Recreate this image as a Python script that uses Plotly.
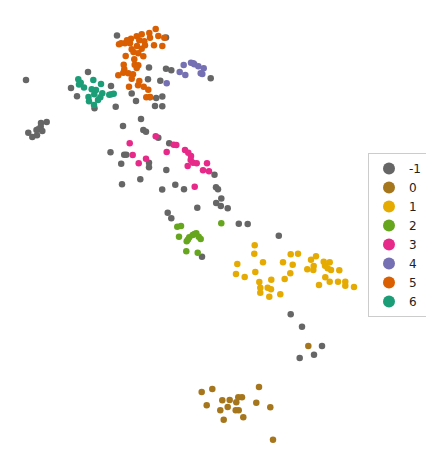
import plotly.graph_objects as go

labels = ["-1", "0", "1", "2", "3", "4", "5", "6"]
colors = ["#666666", "#a6761d", "#e6ab02", "#66a61e", "#e7298a", "#7570b3", "#d95f02", "#1b9e77"]

# cluster -1 (noise)
x_m1 = [26, 117, 88, 166, 149, 166, 171.3, 210.7, 148, 160.3, 111, 71, 77, 131.7, 136, 150, 156.2, 162.3,
        155, 162.3, 115.7, 94.5, 123, 46.7, 41, 40.7, 38.3, 42.3, 28.3, 32.3, 37, 36.5,
        141, 143.3, 146, 158.3, 169.2, 110.5, 124.2, 126.3, 121.2, 149, 149, 166.3, 140.3, 122,
        162.2, 175.3, 184, 214.5, 216, 218, 221.3, 216.2, 220.8, 227.7, 197.3, 167.7, 171.3,
        238.8, 247.7, 278.8, 202, 290.7, 302, 322, 314, 299.7]
y_m1 = [80, 35.5, 72, 37.5, 67.5, 68.7, 70.3, 78.3, 79.3, 80.7, 86, 88, 96.3, 93.5, 101, 97.3, 98, 96.5,
        106, 106.2, 106.8, 108.2, 126, 122, 123, 126.7, 129.3, 131, 132.7, 137, 135.3, 130,
        119, 130, 131.7, 137.7, 143.2, 152.2, 154.8, 154.8, 163.7, 162.8, 167.3, 170, 179.2, 184.2,
        189.5, 184.8, 189.3, 174.7, 187.3, 189.3, 198.5, 203, 206, 208.2, 207.7, 212.7, 218.2,
        223.7, 224, 235.8, 256.7, 314.3, 326.7, 346, 354.7, 358]

# cluster 0
x_0 = [201.7, 212.3, 206.7, 222.3, 229.7, 227.7, 220.3, 223.7, 236.3, 238.3, 242, 235.7, 238.7, 243.3,
       259, 256.3, 270.3, 273, 308.3]
y_0 = [392, 389, 405.3, 400.3, 400, 407, 410.3, 419.7, 402.3, 397.3, 397.3, 410.3, 410.3, 417.3,
       387, 402.7, 407.3, 439.7, 346]

# cluster 1
x_1 = [254.7, 254.3, 237.3, 236, 244.7, 255.3, 263, 259.3, 260.3, 260.3, 271.3, 267.7, 271, 269.3,
       280.3, 284.7, 290.3, 283, 292.7, 290.7, 298, 307.3, 311, 316, 313.7, 313.3, 323.7, 329.7,
       325, 327.7, 331, 339.3, 325.3, 319, 329.7, 338, 345.3, 345.3, 354]
y_1 = [245.3, 253.7, 264, 274, 277, 272, 262.3, 282, 287.7, 292.7, 279.7, 287.7, 289.3, 296.7,
       294.3, 279, 273.3, 262.3, 264.7, 254.3, 253.7, 269.3, 259.7, 256.3, 266, 270, 261.7, 262.3,
       265.7, 268.3, 270, 270.3, 277.3, 285, 281.7, 281.7, 281.7, 285.7, 287]

# cluster 2
x_2 = [177.3, 181, 179, 186.7, 189.3, 192.7, 196.3, 198.7, 200.7, 186.3, 197.7, 221.3, 188, 194.5]
y_2 = [226.7, 226, 236.7, 241.3, 237.3, 235, 233.3, 236.7, 239, 251.3, 252.7, 223.3, 239.5, 234]

# cluster 3
x_3 = [129.7, 132.7, 138.7, 146, 155.7, 166.7, 173.7, 176.3, 185, 188.3, 191, 190.7, 193, 196.7,
       187.7, 207, 203, 209, 194.7]
y_3 = [143.3, 155, 163.3, 158.7, 136.3, 152, 144.7, 145, 150, 152.7, 156, 160, 162.7, 163.3,
       166, 163.3, 170.3, 171.3, 186.7]

# cluster 4
x_4 = [183.7, 191, 193.3, 194.3, 198.3, 203.7, 200.7, 202.3, 179.7, 185.3, 166.7]
y_4 = [65, 62.7, 63.3, 64.3, 66.3, 68.3, 73.3, 74, 72, 75, 83.3]

# cluster 5
x_5 = [155.7, 149.3, 158.3, 164.3, 136.7, 141.7, 131, 125, 119, 130, 139.3, 144.3, 150, 154, 162.3,
       137, 141.7, 145, 131.7, 138.3, 143.3, 125.7, 134.3, 123.7, 134.7, 138.3, 124.3, 136.7, 123.3,
       128.3, 118.3, 133, 131.7, 129, 138, 143.7, 139.3, 148.3, 146.3, 121, 127, 150, 133.5]
y_5 = [29, 33, 36, 37.7, 36.3, 34.3, 38.7, 43.3, 44.3, 43.3, 40.3, 41.3, 37.7, 45.3, 46,
       46, 48.7, 45.3, 49.3, 53.3, 56.3, 56, 59.3, 64.7, 64.7, 65.3, 69.3, 68, 72.7,
       73.3, 75.3, 74.3, 78.7, 86.7, 85.3, 86.7, 81, 89.7, 97.3, 43.3, 40.3, 97, 52]

# cluster 6
x_6 = [78.3, 80.7, 79, 84, 93.3, 101, 91.7, 96, 94.3, 88.5, 89, 94, 100.3, 102.3, 109.3, 113.7, 111.5, 98]
y_6 = [79.3, 82.7, 84.5, 87.5, 80, 84, 89.3, 90, 94.3, 97, 101.3, 105, 97.3, 93.3, 94.7, 93.7, 94.2, 100]

xs = [x_m1, x_0, x_1, x_2, x_3, x_4, x_5, x_6]
ys = [y_m1, y_0, y_1, y_2, y_3, y_4, y_5, y_6]

# page has an 8px body margin; figure covers window pixels 8..434 / 8..470
OFF = 8
W, H = 434 - OFF, 470 - OFF

fig = go.Figure()
for lab, col, x, y in zip(labels, colors, xs, ys):
    fig.add_trace(go.Scatter(x=x, y=y, mode="markers", name=lab, showlegend=False,
                             marker=dict(color=col, size=6.5, line=dict(width=0))))
for lab, col in zip(labels, colors):
    fig.add_trace(go.Scatter(x=[None], y=[None], mode="markers", name=lab, showlegend=True,
                             marker=dict(color=col, size=12, line=dict(width=0))))

fig.update_layout(
    width=W, height=H,
    margin=dict(l=0, r=0, t=0, b=0, autoexpand=False),
    paper_bgcolor="white", plot_bgcolor="white",
    xaxis=dict(range=[OFF, 434], visible=False),
    yaxis=dict(range=[470, OFF], visible=False),
    legend=dict(x=(427 - OFF) / W, y=1 - (235 - OFF) / H, xanchor="right", yanchor="middle",
                bordercolor="#cccccc", borderwidth=1, bgcolor="white",
                font=dict(family="DejaVu Sans", size=12, color="#222222"),
                itemwidth=30, tracegroupgap=0),
    showlegend=True,
)
fig.write_html("out.html")
